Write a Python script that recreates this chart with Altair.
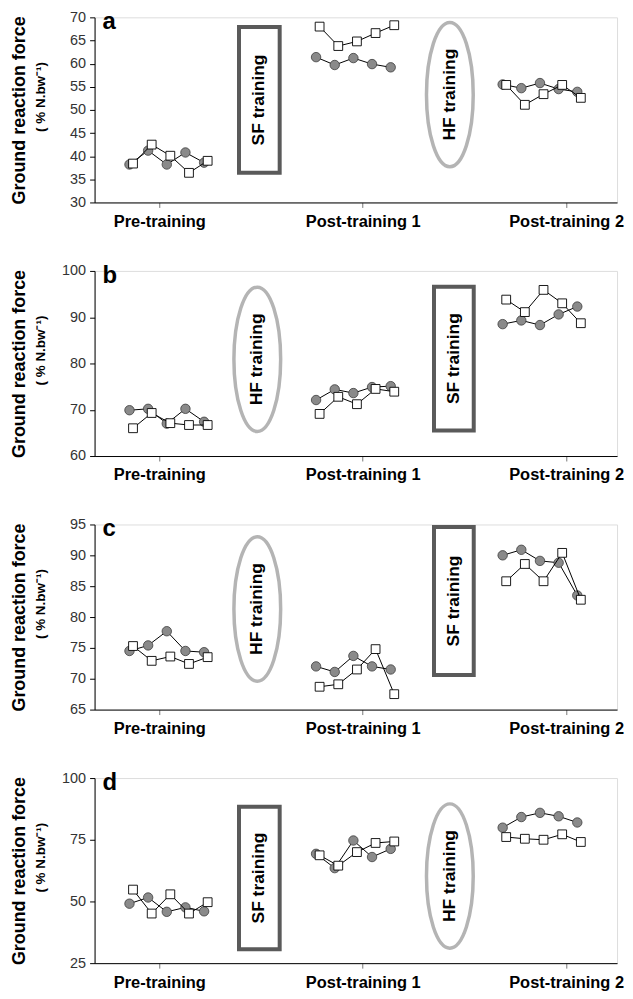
import altair as alt
import pandas as pd

# ---------------- data ----------------
groups = ["Pre-training", "Post-training 1", "Post-training 2"]
panels = ["a", "b", "c", "d"]

circ_a = [[38.2, 41.2, 38.2, 40.8, 38.6], [61.4, 59.7, 61.2, 59.9, 59.2], [55.5, 54.7, 55.8, 54.5, 53.9]]
sq_a = [[38.4, 42.5, 40.1, 36.4, 39.0], [68.0, 63.8, 64.8, 66.6, 68.3], [55.4, 51.1, 53.4, 55.4, 52.6]]

circ_b = [[69.9, 70.2, 67.0, 70.2, 67.4], [72.1, 74.4, 73.6, 74.9, 75.1], [88.5, 89.3, 88.3, 90.6, 92.3]]
sq_b = [[66.0, 69.3, 67.1, 66.7, 66.7], [69.1, 72.8, 71.2, 74.5, 73.9], [93.8, 91.1, 95.9, 93.0, 88.7]]

circ_c = [[74.5, 75.4, 77.7, 74.5, 74.3], [72.0, 71.1, 73.7, 72.0, 71.5], [90.0, 90.9, 89.1, 88.8, 83.5]]
sq_c = [[75.3, 72.9, 73.6, 72.4, 73.5], [68.7, 69.1, 71.5, 74.8, 67.5], [85.8, 88.6, 85.8, 90.4, 82.8]]

circ_d = [[49.1, 51.6, 45.8, 47.6, 46.0], [69.3, 63.5, 74.7, 68.0, 71.3], [79.9, 84.2, 85.9, 84.5, 82.0]]
sq_d = [[54.8, 45.1, 52.9, 45.1, 49.7], [68.7, 64.5, 70.0, 73.7, 74.3], [76.1, 75.4, 75.0, 77.2, 74.1]]

circles = {"a": circ_a, "b": circ_b, "c": circ_c, "d": circ_d}
squares = {"a": sq_a, "b": sq_b, "c": sq_c, "d": sq_d}

y_domains = {"a": [30, 70], "b": [60, 100], "c": [65, 95], "d": [25, 100]}
y_ticks = {
    "a": [30, 35, 40, 45, 50, 55, 60, 65, 70],
    "b": [60, 70, 80, 90, 100],
    "c": [65, 70, 75, 80, 85, 90, 95],
    "d": [25, 50, 75, 100],
}

# category label positions on the x axis (in point-index units)
label_x = [1.6, 12.5, 23.4]

# annotation boxes ("SF training") : x, x2, y, y2 in data units
sf_box = {
    "a": [5.87, 8.05, 36.4, 67.9],
    "b": [16.32, 18.45, 65.5, 96.6],
    "c": [16.32, 18.45, 70.6, 94.6],
    "d": [5.87, 8.05, 30.6, 88.4],
}
# annotation ovals ("HF training") : centre x, centre y in data units
hf_oval = {
    "a": [17.17, 53.3],
    "b": [6.85, 80.9],
    "c": [6.85, 81.3],
    "d": [17.17, 60.3],
}

# ---------------- styling ----------------
H = 186
W = 525
XDOM = [-1.87, -1.87 + W / 18.75]
FONT = "Liberation Sans"
ELLIPSE = ("M0,-1C0.179,-1,0.324,-0.552,0.324,0C0.324,0.552,0.179,1,0,1"
           "C-0.179,1,-0.324,0.552,-0.324,0C-0.324,-0.552,-0.179,-1,0,-1Z")

label_expr = (f"datum.value < 7 ? '{groups[0]}' : "
              f"(datum.value < 18 ? '{groups[1]}' : '{groups[2]}')")


def make_panel(p):
    rows = []
    for g in range(3):
        for i in range(5):
            rows.append({"series": "circle", "group": g, "x": g * 10 + i, "y": circles[p][g][i]})
            rows.append({"series": "square", "group": g, "x": g * 10 + i + 0.19, "y": squares[p][g][i]})
    df = pd.DataFrame(rows)

    x_enc = alt.X(
        "x:Q",
        scale=alt.Scale(domain=XDOM, nice=False, zero=False),
        axis=alt.Axis(
            values=label_x, labelExpr=label_expr, title=None, grid=False,
            labelFontSize=16.5, labelFontWeight="bold", labelColor="black",
            labelFont=FONT, tickSize=5, tickColor="#777", labelPadding=6,
            domainColor="black", labelFlush=False, labelOverlap=False,
        ),
    )
    y_enc = alt.Y(
        "y:Q",
        scale=alt.Scale(domain=y_domains[p], nice=False, zero=False),
        axis=alt.Axis(
            values=y_ticks[p], grid=False, title="Ground reaction force",
            titleFontSize=18, titleFontWeight="bold", titleFont=FONT,
            titleColor="black", titleAngle=270, titleX=-70, titleY=H / 2,
            titleAlign="center", titleBaseline="alphabetic",
            labelFontSize=14.5, labelFont=FONT, labelColor="#333",
            labelOverlap=False, labelFlush=False,
            tickSize=5, tickColor="black", labelPadding=4, domainColor="black",
        ),
    )

    box = sf_box[p]
    box_df = pd.DataFrame([{"x": box[0], "x2": box[1], "y": box[2], "y2": box[3]}])
    box_txt = pd.DataFrame([{"x": (box[0] + box[1]) / 2, "y": (box[2] + box[3]) / 2,
                             "t": "SF training"}])
    oval_df = pd.DataFrame([{"x": hf_oval[p][0], "y": hf_oval[p][1], "t": "HF training"}])

    rect = alt.Chart(box_df).mark_rect(fill="white", stroke="#5a5a5a", strokeWidth=4).encode(
        x=x_enc, x2="x2:Q", y=y_enc, y2="y2:Q")
    rect_text = alt.Chart(box_txt).mark_text(
        angle=270, fontSize=17.5, fontWeight="bold", font=FONT, color="black",
        align="center", baseline="middle").encode(x=x_enc, y=y_enc, text="t:N")
    oval = alt.Chart(oval_df).mark_point(
        shape=ELLIPSE, size=21025, filled=False, stroke="#b4b4b4",
        strokeWidth=3.5, opacity=1).encode(x=x_enc, y=y_enc)
    oval_text = alt.Chart(oval_df).mark_text(
        angle=270, fontSize=17.5, fontWeight="bold", font=FONT, color="black",
        align="center", baseline="middle").encode(x=x_enc, y=y_enc, text="t:N")

    c_df = df[df.series == "circle"]
    s_df = df[df.series == "square"]
    c_line = alt.Chart(c_df).mark_line(color="black", strokeWidth=1).encode(
        x=x_enc, y=y_enc, detail="group:N")
    c_pts = alt.Chart(c_df).mark_point(
        shape="circle", filled=True, fill="#8a8a8a", stroke="#3c3c3c",
        strokeWidth=0.8, size=90, opacity=1).encode(x=x_enc, y=y_enc)
    s_line = alt.Chart(s_df).mark_line(color="black", strokeWidth=1).encode(
        x=x_enc, y=y_enc, detail="group:N")
    s_pts = alt.Chart(s_df).mark_point(
        shape="square", filled=True, fill="white", stroke="black",
        strokeWidth=0.9, size=78, opacity=1).encode(x=x_enc, y=y_enc)

    letter = alt.Chart(pd.DataFrame([{"t": p}])).mark_text(
        fontSize=24, fontWeight="bold", font=FONT, color="black",
        align="left", baseline="top").encode(
        x=alt.value(8), y=alt.value(-7), text="t:N")
    unit = alt.Chart(pd.DataFrame([{"t": "( % N.bw⁻¹)"}])).mark_text(
        angle=270, fontSize=13.5, fontWeight="bold", font=FONT, color="black",
        align="center", baseline="alphabetic").encode(
        x=alt.value(-50), y=alt.value(H * 0.43), text="t:N")

    return alt.layer(rect, rect_text, oval, oval_text, c_line, c_pts, s_line, s_pts,
                     letter, unit).properties(width=W, height=H)


chart = alt.vconcat(*[make_panel(p) for p in panels], spacing=31.8).properties(
    padding={"left": 2, "top": -2, "right": 0, "bottom": 0}
).configure_view(stroke=None).configure(font=FONT)

chart.save("out.html", embed_options={"renderer": "svg", "actions": False})
